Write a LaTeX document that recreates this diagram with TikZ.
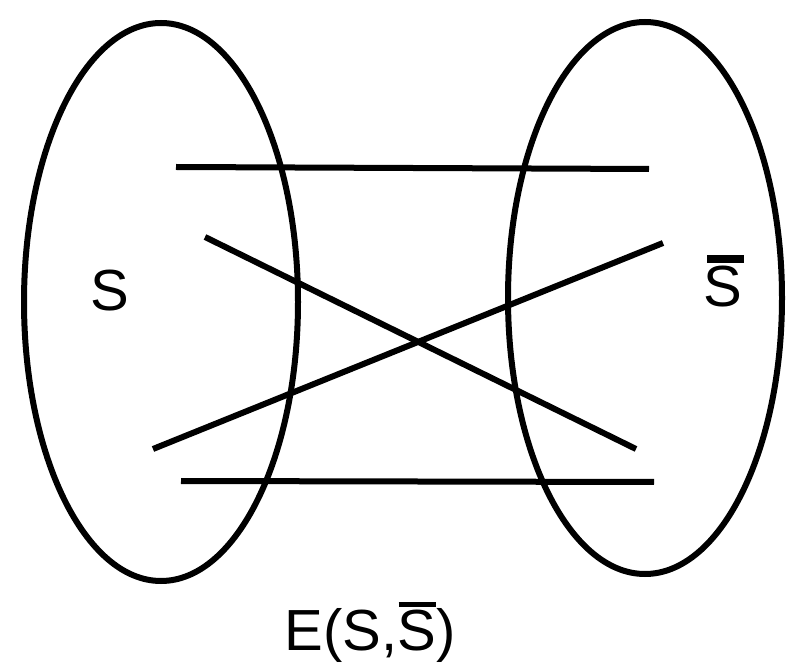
\documentclass[tikz,border=0pt]{standalone}
\usepackage{fontspec}
\setmainfont{Liberation Sans}
\usetikzlibrary{shapes.geometric}
\newcommand{\sbarred}[2]{\makebox[0pt][l]{\hspace{#1}\raisebox{0.75em}{\rule{0.64em}{#2}}}S}
\begin{document}
\begin{tikzpicture}[x=1pt,y=-1pt,
  setoval/.style={draw=black,line width=6pt,ellipse,minimum width=274pt,minimum height=#1,inner sep=0pt},
  edge/.style={draw=black,line width=6pt},
  lbl/.style={font=\fontsize{58}{60}\selectfont,inner sep=0pt,anchor=base}]
\useasboundingbox (0,0) rectangle (796,668);
\node[setoval=558pt] (L) at (161,302) {};
\node[setoval=552pt] (R) at (645,298) {};
\node[lbl] (s) at (110,311) {S};
\node[lbl] (sb) at (723,307) {\sbarred{0.05em}{8pt}};
\node[lbl] (e) at (370,650) {E(S,\sbarred{0.02em}{5pt})};
\coordinate (a1) at (176,167); \coordinate (a2) at (649,169);
\coordinate (b1) at (205,237); \coordinate (b2) at (636,449);
\coordinate (c1) at (153,449); \coordinate (c2) at (663,243);
\coordinate (d1) at (181,481); \coordinate (d2) at (654,482);
\draw[edge] (a1) -- (a2);
\draw[edge] (b1) -- (b2);
\draw[edge] (c1) -- (c2);
\draw[edge] (d1) -- (d2);
\end{tikzpicture}
\end{document}
